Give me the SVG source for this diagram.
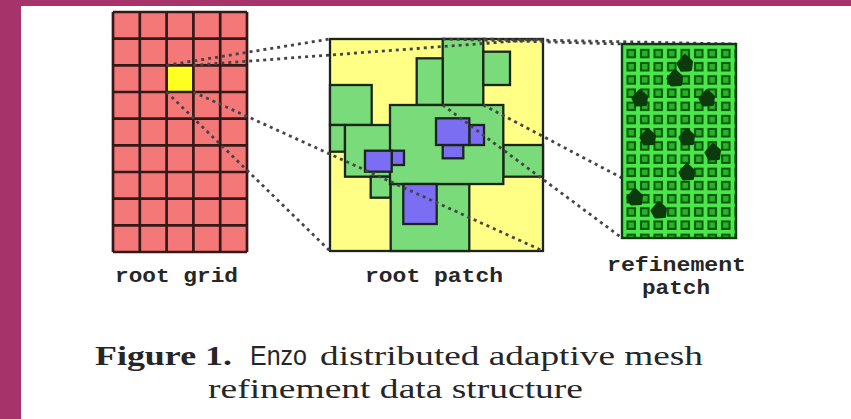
<svg xmlns="http://www.w3.org/2000/svg" width="851" height="419" viewBox="0 0 851 419">
  <style>
    .grid-line { stroke: #351818; stroke-width: 2.7; fill: none; }
    .patch { stroke: #1a261a; stroke-width: 2.3; }
    .yel { fill: #ffff86; }
    .grn { fill: #79db79; }
    .blu { fill: #7b6ef2; }
    .dot { stroke: #444444; stroke-width: 2.8; stroke-dasharray: 3 4; fill: none; }
    .blob { fill: #0c3a0c; stroke: #0c3a0c; stroke-width: 3; stroke-linejoin: round; }
    .label { font-family: "Liberation Mono", "DejaVu Sans Mono", monospace; font-weight: bold; font-size: 20px; fill: #262626; }
    .cap { font-family: "Liberation Serif", "DejaVu Serif", serif; font-size: 27px; fill: #262626; }
  </style>
  <defs>
    <pattern id="fine-cells" patternUnits="userSpaceOnUse" x="624.5" y="47" width="13.5" height="13.2">
      <rect width="13.5" height="13.2" fill="#4ae84a"/>
      <rect x="3" y="2.8" width="7.5" height="7.5" fill="#27b527" stroke="#0b560b" stroke-width="2"/>
    </pattern>
    <path id="blob" class="blob" d="M0,-7.5 L6.5,-1.5 L5.5,6.5 L-3.5,7 L-7,0.5 Z"/>
  </defs>

  <!-- slide frame -->
  <rect x="0" y="0" width="851" height="419" fill="#a6336a"/>
  <rect x="21" y="6" width="830" height="413" fill="#ffffff"/>

  <!-- coarse root grid, 5 x 9 cells -->
  <g id="root-grid">
    <rect x="113" y="12" width="134" height="240" fill="#f57878"/>
    <rect x="166.6" y="65.33" width="26.8" height="26.67" fill="#ffff22"/>
    <path class="grid-line" d="M113,12 V252 M139.8,12 V252 M166.6,12 V252 M193.4,12 V252 M220.2,12 V252 M247,12 V252
      M113,12 H247 M113,38.67 H247 M113,65.33 H247 M113,92 H247 M113,118.67 H247 M113,145.33 H247 M113,172 H247 M113,198.67 H247 M113,225.33 H247 M113,252 H247"/>
  </g>

  <!-- root patch with nested subgrids -->
  <g id="root-patch">
    <rect class="patch yel" x="330" y="39" width="213" height="212"/>
    <rect class="patch grn" x="442.7" y="39" width="40.6" height="66"/>
    <rect class="patch grn" x="416.7" y="58.3" width="26" height="46.7"/>
    <rect class="patch grn" x="483.3" y="51.7" width="26.7" height="33.3"/>
    <rect class="patch grn" x="330" y="85" width="41.7" height="40"/>
    <rect class="patch grn" x="330" y="125" width="15" height="26.7"/>
    <rect class="patch grn" x="345" y="125" width="46.7" height="51.7"/>
    <rect class="patch grn" x="370.7" y="176.7" width="20" height="21"/>
    <rect class="patch grn" x="503.3" y="145" width="39.7" height="31.7"/>
    <rect class="patch grn" x="390.7" y="184" width="78.6" height="67"/>
    <rect class="patch grn" x="390" y="105" width="113.3" height="79"/>
    <rect class="patch blu" x="469.3" y="125" width="14.7" height="20"/>
    <rect class="patch blu" x="442.7" y="145" width="20.6" height="13.3"/>
    <rect class="patch blu" x="436" y="118.3" width="33.3" height="26.7"/>
    <rect class="patch blu" x="391.7" y="150.7" width="12.3" height="14.3"/>
    <rect class="patch blu" x="365" y="150.7" width="26.7" height="21"/>
    <rect class="patch blu" x="403.3" y="184" width="33.4" height="40"/>
  </g>

  <!-- dotted zoom connectors -->
  <g id="connectors">
    <path class="dot" d="M166.6,65.3 L330,39"/>
    <path class="dot" d="M193.4,65.3 L543,39"/>
    <path class="dot" d="M166.6,92 L330,251"/>
    <path class="dot" d="M193.4,92 L543,251"/>
    <path class="dot" d="M442.7,39 L622,44"/>
    <path class="dot" d="M483.3,39 L736,44"/>
    <path class="dot" d="M442.7,105 L622,238"/>
    <path class="dot" d="M483.3,105 L736,238"/>
  </g>

  <!-- refinement patch: fine cells with collapsed particles -->
  <g id="refinement-patch">
    <rect x="622" y="44" width="114" height="194" fill="url(#fine-cells)" stroke="#0d3a0d" stroke-width="2.4"/>
    <use href="#blob" x="685" y="63"/>
    <use href="#blob" x="675" y="78"/>
    <use href="#blob" x="640" y="98"/>
    <use href="#blob" x="707" y="98"/>
    <use href="#blob" x="648" y="137"/>
    <use href="#blob" x="687" y="137"/>
    <use href="#blob" x="713" y="152"/>
    <use href="#blob" x="687" y="172"/>
    <use href="#blob" x="635" y="197"/>
    <use href="#blob" x="659" y="210"/>
  </g>

  <g id="labels">
    <text class="label" x="115" y="282" textLength="123" lengthAdjust="spacingAndGlyphs">root grid</text>
    <text class="label" x="365" y="282" textLength="138" lengthAdjust="spacingAndGlyphs">root patch</text>
    <text class="label" x="607" y="271" textLength="139" lengthAdjust="spacingAndGlyphs">refinement</text>
    <text class="label" x="642" y="294" textLength="68" lengthAdjust="spacingAndGlyphs">patch</text>
  </g>

  <g id="caption">
    <text class="cap" x="95" y="365" font-weight="bold" textLength="137" lengthAdjust="spacingAndGlyphs">Figure 1.</text>
    <text x="250" y="365" font-family="Liberation Sans, Arial, sans-serif" font-size="28" fill="#262626" textLength="57" lengthAdjust="spacingAndGlyphs">Enzo</text>
    <text class="cap" x="320" y="365" textLength="383" lengthAdjust="spacingAndGlyphs">distributed adaptive mesh</text>
    <text class="cap" x="208" y="398" textLength="375" lengthAdjust="spacingAndGlyphs">refinement data structure</text>
  </g>
</svg>
